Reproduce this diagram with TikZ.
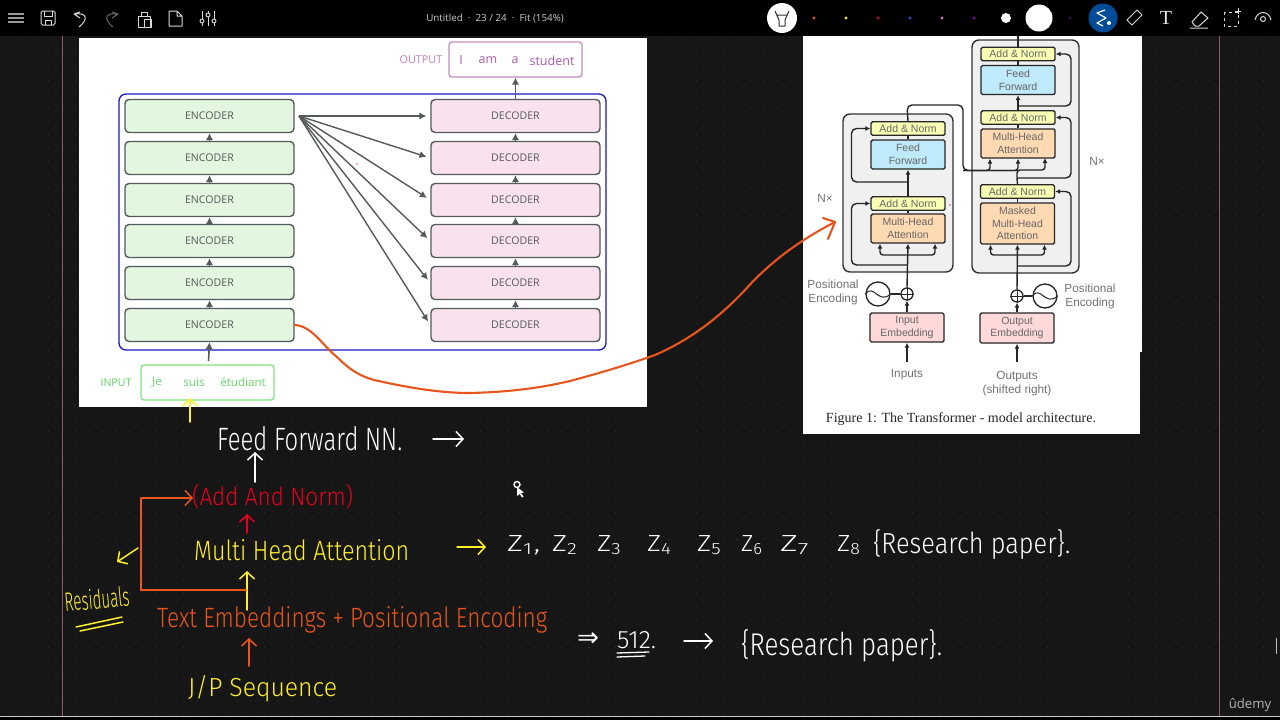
\documentclass[tikz,border=0pt]{standalone}
\usepackage{fontspec}
\usepackage{graphicx}
\setmainfont{Liberation Sans}
\newfontfamily\lato{Open Sans}
\newfontfamily\hw{Fira Sans}[UprightFont=* Light]
\newfontfamily\capfont{Liberation Serif}
\usetikzlibrary{arrows.meta}
\definecolor{bgdark}{HTML}{161616}
\definecolor{griddot}{HTML}{333333}
\definecolor{dgray}{HTML}{555A5A}
\definecolor{hworange}{HTML}{E8561E}
\definecolor{hwyellow}{HTML}{FFF02A}
\definecolor{hwred}{HTML}{E8001E}
\definecolor{marginline}{HTML}{8A5A70}
\definecolor{encfill}{HTML}{E3F6DF}
\definecolor{decfill}{HTML}{F9E1EE}
\newcommand{\fitw}[3]{\resizebox{#1pt}{#2pt}{\hw #3}}
\tikzset{
  enc/.style={draw=dgray,line width=1.4pt,fill=#1,rounded corners=4pt,minimum width=169pt,minimum height=33pt,inner sep=0pt,text=dgray,font=\lato\fontsize{10.6}{12}\selectfont},
  garrow/.style={draw=dgray,line width=1.6pt,-{Latex[length=7pt,width=7.5pt]}},
  tbox/.style={draw=black!85,line width=1.4pt,fill=#1,rounded corners=1.5pt,minimum width=74pt,inner sep=0pt,align=center,text=black!60,font=\fontsize{10.5}{12.6}\selectfont},
  tline/.style={draw=black!85,line width=1.4pt},
  tarrow/.style={tline,-{Latex[length=5pt,width=5pt]}},
  tlabel/.style={text=black!55,align=center,inner sep=0pt,font=\fontsize{11.8}{14}\selectfont},
  hand/.style={inner sep=0pt,text=#1},
  harrow/.style={draw=#1,line width=1.5pt,line cap=round,-{Straight Barb[length=7pt,width=15pt,line width=1.5pt]}},
  hline/.style={draw=#1,line width=1.5pt,line cap=round},
  ticon/.style={draw=white!85!black,line width=1pt,line join=round},
}
\begin{document}
\begin{tikzpicture}[x=1pt,y=-1pt]
\useasboundingbox (0,0) rectangle (1280,720);
% canvas
\fill[bgdark] (0,0) rectangle (1280,720);
\foreach \i in {0,...,94}{\foreach \j in {0,...,51}{
  \fill[griddot] ({8+13.5*\i},{40+13.5*\j}) circle (0.6pt);}}
\draw[draw=marginline,line width=0.9pt] (62,36) -- (62,720);
\draw[draw=marginline,line width=0.9pt] (1219,36) -- (1219,720);
\fill[black] (0,716) rectangle (1280,720);
\draw[white!80!black,line width=1.2pt] (0,716.5) -- (1280,716.5);
\draw[white!75!black,line width=1pt] (1276.5,638) -- (1276.5,654);
% top bar
\fill[black] (0,0) rectangle (1280,36);
\draw[ticon,white!60!black,line width=1.1pt] (8,14) -- (24,14) (8,18) -- (24,18) (8,22) -- (24,22);
\draw[ticon,rounded corners=1.5pt] (41,11) rectangle (55,25);
\draw[ticon] (44,11) -- (44,16) -- (52,16) -- (52,11) (45,25) -- (45,20) -- (51,20) -- (51,25);
\draw[ticon] (80,12) -- (74,14) -- (80,18) (74,14) .. controls (88,12) and (88,20) .. (79,27);
\draw[ticon,white!40!black] (112,12) -- (118,14) -- (112,18) (118,14) .. controls (104,12) and (104,20) .. (113,27);
\draw[ticon] (138,16) rectangle (150,27) (141,16) -- (141,12) -- (147,12) -- (147,16) (144,19) rectangle (151,27);
\draw[ticon] (169,11) -- (177,11) -- (182,16) -- (182,26) -- (169,26) -- cycle (177,11) -- (177,16) -- (182,16);
\draw[ticon] (202,11) -- (202,26) (208,11) -- (208,26) (214,11) -- (214,26);
\fill[black] (202,21) circle (2pt) (208,15) circle (2pt) (214,21) circle (2pt);
\draw[ticon] (202,21) circle (2pt) (208,15) circle (2pt) (214,21) circle (2pt);
\node[text=white!80!black,inner sep=0pt,font=\lato\fontsize{9.8}{11}\selectfont] (title) at (495,18.5) {Untitled\ \ ·\ \ 23 / 24\ \ ·\ \ Fit (154\%)};
\fill[white] (782,18) circle (15pt);
\draw[black!80,line width=1pt,line join=round] (775,11) -- (779,20) -- (779,26) -- (785,26) -- (785,20) -- (789,11) (777,15) -- (787,15);
\foreach \xx/\cc in {814/E8561E,846/F4E22A,878/C00A1E,910/2A50C0,942/D070D0,974/7A10A0,1070/3A0F5A}{
  \definecolor{tmpc}{HTML}{\cc}\fill[tmpc] (\xx,18) circle (1.7pt);}
\fill[white] (1006,18) circle (5pt);
\fill[white] (1039,18) circle (13.5pt);
\fill[blue!50!cyan!60!black] (1103,18) circle (14.5pt);
\draw[white,line width=1.2pt,line join=round] (1105,10) -- (1097,13) -- (1106,18) -- (1097,23) -- (1103,26);
\fill[white] (1109,23) circle (2pt);
\draw[ticon] (1127,20) -- (1137,10) -- (1142,15) -- (1132,25) -- cycle;
\node[text=white!90!black,inner sep=0pt,font=\capfont\fontsize{20}{20}\selectfont] (ttool) at (1166,18) {T};
\draw[ticon] (1192,22) -- (1201,12) -- (1208,18) -- (1199,26) -- (1195,26) -- cycle (1190,28) -- (1208,28);
\draw[ticon,dashed] (1224,12) rectangle (1238,26);
\draw[ticon] (1238,8) -- (1238,14) (1235,11) -- (1241,11);
\draw[ticon] (1255,20) .. controls (1257,10) and (1269,10) .. (1271,20);
\draw[ticon] (1263,19) circle (2.5pt);

% left white picture
\fill[white] (79,38) rectangle (647,407);
\draw[blue!70!black!90,line width=1.3pt,rounded corners=7pt] (119,94) rectangle (606,350);
\foreach \nm/\yy in {e1/325,e2/283,e3/241,e4/200,e5/158,e6/116}{
  \node[enc=encfill] (\nm) at (209.5,\yy) {ENCODER};}
\foreach \nm/\yy in {d1/325,d2/283,d3/241,d4/200,d5/158,d6/116}{
  \node[enc=decfill] (\nm) at (515.5,\yy) {DECODER};}
\draw[garrow] (e1) -- (e2);
\draw[garrow] (e2) -- (e3);
\draw[garrow] (e3) -- (e4);
\draw[garrow] (e4) -- (e5);
\draw[garrow] (e5) -- (e6);
\draw[garrow] (d1) -- (d2);
\draw[garrow] (d2) -- (d3);
\draw[garrow] (d3) -- (d4);
\draw[garrow] (d4) -- (d5);
\draw[garrow] (d5) -- (d6);
\coordinate (fan) at (299,116);
\foreach \t in {d1,d2,d3,d4,d5,d6}{
  \draw[garrow,line width=1.4pt,shorten >=4pt] (fan) -- (\t.west);}
\node[draw=green!45!white!90!black,line width=1.3pt,rounded corners=3pt,minimum width=133pt,minimum height=35pt,inner sep=0pt] (inbox) at (207.5,382.5) {};
\node[text=green!55!gray!80!white,inner sep=0pt,font=\lato\fontsize{10.6}{12}\selectfont] (intext) at (116,382.5) {INPUT};
\node[text=green!60!gray!75!white,inner sep=0pt,font=\lato\fontsize{11.6}{13}\selectfont] (je) at (157,382.5) {Je};
\node[text=green!60!gray!75!white,inner sep=0pt,font=\lato\fontsize{11.6}{13}\selectfont] (suis) at (194,382.5) {suis};
\node[text=green!60!gray!75!white,inner sep=0pt,font=\lato\fontsize{11.6}{13}\selectfont] (etu) at (243,382.5) {étudiant};
\coordinate (instart) at (208.5,361);
\draw[garrow] (instart) -- (e1.south);
\node[draw=violet!45!white,line width=1.3pt,rounded corners=3pt,minimum width=133pt,minimum height=35pt,inner sep=0pt] (outbox) at (515.5,59.5) {};
\node[text=violet!50!white,inner sep=0pt,font=\lato\fontsize{10.8}{12}\selectfont] (outtext) at (421,59.5) {OUTPUT};
\node[text=violet!65!white,inner sep=0pt,font=\lato\fontsize{12.5}{14}\selectfont] (wi) at (461,60.5) {I};
\node[text=violet!65!white,inner sep=0pt,font=\lato\fontsize{12.5}{14}\selectfont] (wam) at (488,60.5) {am};
\node[text=violet!65!white,inner sep=0pt,font=\lato\fontsize{12.5}{14}\selectfont] (wa) at (515,60.5) {a};
\node[text=violet!65!white,inner sep=0pt,font=\lato\fontsize{12.5}{14}\selectfont] (wst) at (552,60.5) {student};
\draw[garrow] (d6.north) -- (outbox.south);
\fill[magenta!70] (357,164) circle (.8pt);

% right white picture
\fill[white] (803,36) rectangle (1142,352);
\fill[white] (803,352) rectangle (1140,434);
\draw[draw=black!80,line width=1.4pt,fill=black!6,rounded corners=7pt] (843,114) rectangle (953,272);
\draw[draw=black!80,line width=1.4pt,fill=black!6,rounded corners=7pt] (972,40) rectangle (1079,273);
% encoder boxes
\node[tbox=lime!30!yellow!30!white,minimum height=13.5pt] (ean2) at (908,128.5) {Add \& Norm};
\node[tbox=cyan!25!white,minimum height=29pt] (eff) at (908,154.5) {Feed\\Forward};
\node[tbox=lime!30!yellow!30!white,minimum height=13.5pt] (ean1) at (908,203.5) {Add \& Norm};
\node[tbox=orange!30!white,minimum height=29pt] (ema) at (908,228.5) {Multi-Head\\Attention};
\node[tbox=pink!60!white,minimum height=29pt] (ein) at (907,327.5) {Input\\Embedding};
\node[draw=black!85,line width=1.3pt,fill=white,circle,minimum size=12pt,inner sep=0pt] (epl) at (907,294) {};
\draw[black!85,line width=1pt] (epl.north) -- (epl.south) (epl.west) -- (epl.east);
\node[draw=black!85,line width=1.3pt,fill=white,circle,minimum size=24pt,inner sep=0pt] (esn) at (878,294) {};
\draw[black!85,line width=1pt] (esn.west) .. controls (874,283) and (878,305) .. (esn.east);
\draw[tline] (esn) -- (epl);
\node[tlabel] (epos) at (833,292.5) {Positional\\Encoding};
\coordinate (eif) at (907,362);
\node[tlabel] (einp) at (907,375) {Inputs};
\draw[tarrow] (eif) -- (ein.south);
\draw[tarrow] (ein.north) -- (epl.south);
\draw[tarrow] (epl.north) -- (ema.south);
\coordinate (efork) at (907,255);
\draw[tarrow,rounded corners=3pt] (efork) -| ([xshift=-28pt]ema.south);
\draw[tarrow,rounded corners=3pt] (efork) -| ([xshift=27pt]ema.south);
\coordinate (eres1) at (907,265);
\coordinate (eres1c) at (851.5,265);
\draw[tarrow,rounded corners=5pt] (eres1) -- (eres1c) |- (ean1.west);
\draw[tline] (ema.north) -- (ean1.south);
\draw[tarrow] (ean1.north) -- (eff.south);
\coordinate (eres2) at (907,182);
\coordinate (eres2c) at (851.5,182);
\draw[tarrow,rounded corners=5pt] (eres2) -- (eres2c) |- (ean2.west);
\draw[tline] (eff.north) -- (ean2.south);
% decoder boxes
\node[tbox=lime!30!yellow!30!white,minimum height=13.5pt] (dan3) at (1018,54) {Add \& Norm};
\node[tbox=cyan!25!white,minimum height=29pt] (dff) at (1018,80) {Feed\\Forward};
\node[tbox=lime!30!yellow!30!white,minimum height=13.5pt] (dan2) at (1018,117.5) {Add \& Norm};
\node[tbox=orange!30!white,minimum height=29pt] (dma) at (1018,143.5) {Multi-Head\\Attention};
\node[tbox=lime!30!yellow!30!white,minimum height=13.5pt] (dan1) at (1017.5,191.5) {Add \& Norm};
\node[tbox=orange!30!white,minimum height=41pt] (dmm) at (1017.5,223.5) {Masked\\Multi-Head\\Attention};
\node[tbox=pink!60!white,minimum height=30pt] (dou) at (1017,328) {Output\\Embedding};
\node[draw=black!85,line width=1.3pt,fill=white,circle,minimum size=12pt,inner sep=0pt] (dpl) at (1017,296) {};
\draw[black!85,line width=1pt] (dpl.north) -- (dpl.south) (dpl.west) -- (dpl.east);
\node[draw=black!85,line width=1.3pt,fill=white,circle,minimum size=24pt,inner sep=0pt] (dsn) at (1045,296) {};
\draw[black!85,line width=1pt] (dsn.west) .. controls (1041,285) and (1045,307) .. (dsn.east);
\draw[tline] (dsn) -- (dpl);
\node[tlabel] (dpos) at (1090,296.5) {Positional\\Encoding};
\coordinate (dif) at (1017,362);
\node[tlabel] (doutp) at (1017,383.5) {Outputs\\(shifted right)};
\draw[tarrow] (dif) -- (dou.south);
\draw[tarrow] (dou.north) -- (dpl.south);
\draw[tarrow] (dpl.north) -- (dmm.south);
\coordinate (dfork) at (1017,255);
\draw[tarrow,rounded corners=3pt] (dfork) -| ([xshift=-27pt]dmm.south);
\draw[tarrow,rounded corners=3pt] (dfork) -| ([xshift=27pt]dmm.south);
\coordinate (dres1) at (1017,266);
\coordinate (dres1c) at (1071,266);
\draw[tarrow,rounded corners=5pt] (dres1) -- (dres1c) |- (dan1.east);
\draw[tline] (dmm.north) -- (dan1.south);
\coordinate (dres2) at (1017,178);
\coordinate (dres2c) at (1071,178);
\draw[tline] (dan1.north) -- (dres2);
\draw[tarrow,rounded corners=5pt] (dres2) -- (dres2c) |- (dan2.east);
\coordinate (dq) at (1045,158);
\coordinate (dqb) at (1045,170);
\coordinate (dqs) at (1017,170);
\draw[tarrow,rounded corners=3pt] (dres2) -- (dqs) -- (dqb) -- (dq);
\coordinate (ememo) at (907,105);
\coordinate (ememc) at (963,105);
\coordinate (ememd) at (963,170.5);
\coordinate (ememe) at (990,170.5);
\coordinate (ememv) at (1018,170.5);
\draw[tline,rounded corners=5pt] (ean2.north) -- (ememo) -- (ememc) -- (ememd) -- (ememv);
\draw[tarrow,rounded corners=3pt] (ememd) -- (ememe) -- ([xshift=-28pt]dma.south);
\draw[tarrow,rounded corners=3pt] (ememd) -- (ememv) -- (dma.south);
\draw[tline] (dma.north) -- (dan2.south);
\draw[tarrow] (dan2.north) -- (dff.south);
\coordinate (dres3) at (1018,106);
\coordinate (dres3c) at (1071,106);
\draw[tarrow,rounded corners=5pt] (dres3) -- (dres3c) |- (dan3.east);
\draw[tline] (dff.north) -- (dan3.south);
\coordinate (dtop) at (1018,36);
\draw[tline] (dan3.north) -- (dtop);
\node[tlabel] (nxl) at (825,198) {N×};
\node[tlabel] (nxr) at (1097,161) {N×};
\node[text=black!85,inner sep=0pt,font=\capfont\fontsize{14}{16}\selectfont] (figcap) at (961,419.5) {Figure 1: The Transformer - model architecture.};
\fill[magenta!70] (950,205) circle (.8pt);

% orange link
\coordinate (lnkend) at (835,222);
\draw[hworange,line width=2.1pt,line cap=round,line join=round] (e1.east) .. controls (312,326) and (322,345) .. (338,358) .. controls (350,370) and (360,376) .. (374,380) .. controls (410,388) and (440,393) .. (470,393) .. controls (510,392) and (540,388) .. (570,381) .. controls (600,373) and (630,364) .. (655,355) .. controls (685,342) and (715,322) .. (745,290) .. controls (770,262) and (800,240) .. (lnkend);
\coordinate (lnka) at (823,218);
\coordinate (lnkb) at (828,239);
\draw[hline=hworange,line width=2.1pt,line join=round] (lnka) -- (lnkend) -- (lnkb);

% yellow arrow below input
\coordinate (ya1) at (190,422);
\coordinate (ya2) at (190,398);
\draw[harrow=hwyellow] (ya1) -- (ya2);

% handwriting
\node[hand=white,anchor=west] (ffnn) at (217,438.5) {\fitw{185}{24}{Feed Forward NN.}};
\coordinate (w1) at (433,439);
\coordinate (w2) at (464,439);
\draw[harrow=white] (w1) -- (w2);
\node[hand=hwred,anchor=west] (addn) at (192,497) {\fitw{161}{21}{(Add And Norm)}};
\coordinate (w3) at (255,482);
\coordinate (w4) at (255,452);
\draw[harrow=white] (w3) -- (w4);
\node[hand=hwyellow,anchor=west] (mha) at (194,550) {\fitw{215}{21}{Multi Head Attention}};
\coordinate (r1) at (247,533);
\coordinate (r2) at (247,514);
\draw[harrow=hwred] (r1) -- (r2);
\coordinate (y1) at (457,547);
\coordinate (y2) at (486,547);
\draw[harrow=hwyellow] (y1) -- (y2);
\node[hand=hworange,anchor=west] (emb) at (157,620) {\fitw{390}{21}{Text Embeddings + Positional Encoding}};
\coordinate (y3) at (247,610);
\coordinate (y4) at (247,571);
\draw[harrow=hwyellow] (y3) -- (y4);
\coordinate (o1) at (141,498);
\coordinate (o2) at (193,498);
\coordinate (o3) at (141,590);
\coordinate (o4) at (246,590);
\draw[hline=hworange,line width=1.8pt] (o4) -- (o3) -- (o1);
\draw[harrow=hworange,line width=1.8pt] (o1) -- (o2);
\coordinate (o5) at (249,666);
\coordinate (o6) at (249,638);
\draw[harrow=hworange] (o5) -- (o6);
\node[hand=hwyellow,anchor=west] (jp) at (188,689) {\fitw{149}{21}{J/P Sequence}};
\coordinate (y5) at (138,548);
\coordinate (y6) at (117,562);
\draw[harrow=hwyellow] (y5) -- (y6);
\node[hand=hwyellow,rotate=5] (resid) at (97,599) {\fitw{65}{20}{Residuals}};
\coordinate (u1) at (76,627);
\coordinate (u2) at (122,617);
\coordinate (u3) at (80,631);
\coordinate (u4) at (123,622);
\draw[hline=hwyellow] (u1) -- (u2);
\draw[hline=hwyellow] (u3) -- (u4);
\foreach \nm/\xx/\wid/\lab in {z1/507/33/{Z\textsubscript{1},},z2/552/26/Z\textsubscript{2},z3/597/25/Z\textsubscript{3},z4/647/25/Z\textsubscript{4},z5/697/25/Z\textsubscript{5},z6/741/22/Z\textsubscript{6},z7/780/30/Z\textsubscript{7},z8/837/24/Z\textsubscript{8}}{
  \node[hand=white,anchor=west] (\nm) at (\xx,545) {\fitw{\wid}{16}{\lab}};}
\node[hand=white,anchor=west] (rp1) at (873,544) {\fitw{197}{24}{\{Research paper\}.}};
\node[hand=white] (dbl) at (588,640) {\resizebox{22pt}{!}{\fontspec{DejaVu Sans}⇒}};
\node[hand=white,anchor=west] (n512) at (617,640) {\fitw{39}{17}{512.}};
\coordinate (uu1) at (617,653);
\coordinate (uu2) at (649,652);
\coordinate (uu3) at (617,657);
\coordinate (uu4) at (645,656);
\draw[hline=white,line width=1.3pt] (uu1) -- (uu2);
\draw[hline=white,line width=1.3pt] (uu3) -- (uu4);
\coordinate (wa1) at (684,641);
\coordinate (wa2) at (713,641);
\draw[harrow=white] (wa1) -- (wa2);
\node[hand=white,anchor=west] (rp2) at (741,646) {\fitw{201}{26}{\{Research paper\}.}};
% pen cursor
\draw[white,line width=1.4pt,fill=bgdark] (517,484.5) circle (3pt);
\fill[white] (517,487) -- (517,496) -- (519.5,494) -- (522,497.5) -- (523.5,496.5) -- (521,493) -- (524,492.5) -- cycle;
% watermark
\node[text=white!70!black,inner sep=0pt,font=\lato\fontsize{13.2}{15}\selectfont] (udemy) at (1250,705) {ûdemy};
\end{tikzpicture}
\end{document}
